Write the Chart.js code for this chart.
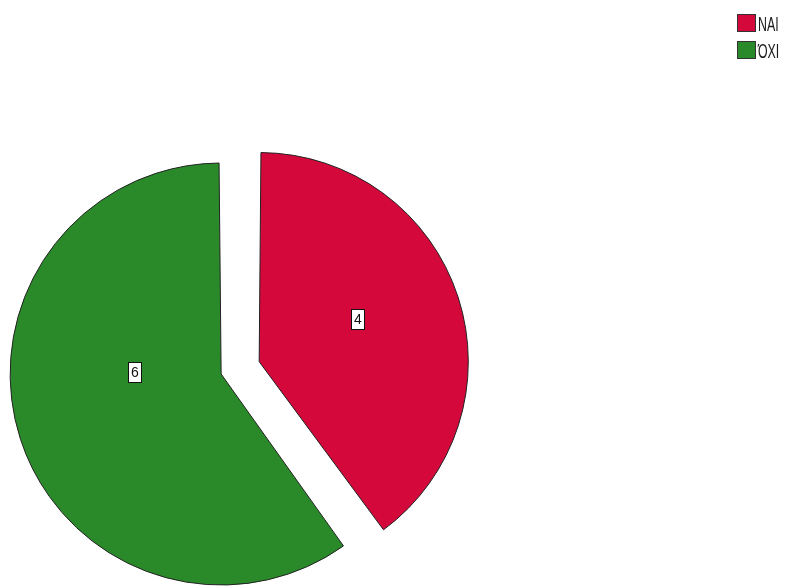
<!DOCTYPE html>
<html>
<head>
<meta charset="utf-8">
<script src="https://cdn.jsdelivr.net/npm/chart.js@4/dist/chart.umd.min.js"></script>
<style>
    body { margin: 0; background: #fff; }
    #wrap { width: 796px; height: 587px; position: relative; }
</style>
</head>
<body>
<div id="wrap"><canvas id="chart"></canvas></div>
<script>
const categories = ['ΝΑΙ', 'ΌΧΙ'];
const counts = [4, 6];
const sliceColors = ['rgb(212, 8, 58)', 'rgb(42, 138, 42)'];

// value labels: white boxes inside each slice
const sliceLabels = {
    id: 'sliceLabels',
    afterDatasetsDraw(chart, args, opts) {
        const ctx = chart.ctx;
        const meta = chart.getDatasetMeta(0);
        ctx.save();
        ctx.font = '14px "Liberation Sans", Arial, sans-serif';
        ctx.textAlign = 'center';
        ctx.textBaseline = 'middle';
        meta.data.forEach((arc, i) => {
            const p = arc.getProps(['x', 'y', 'startAngle', 'endAngle', 'outerRadius']);
            const shift = (arc.options.offset || 0) / 4;
            const mid = (p.startAngle + p.endAngle) / 2;
            const a = p.startAngle + opts.angle[i] * (p.endAngle - p.startAngle);
            const r = p.outerRadius * opts.radius[i];
            const cx = p.x + Math.cos(mid) * shift + Math.cos(a) * r;
            const cy = p.y + Math.sin(mid) * shift + Math.sin(a) * r;
            const text = String(chart.data.datasets[0].data[i]);
            const w = Math.round(ctx.measureText(text).width) + 5;
            const h = 20;
            const bx = Math.round(cx - w / 2) + 0.5;
            const by = Math.round(cy - h / 2) + 0.5;
            ctx.fillStyle = '#fff';
            ctx.fillRect(bx, by, w, h);
            ctx.strokeStyle = '#111';
            ctx.lineWidth = 1;
            ctx.strokeRect(bx, by, w, h);
            ctx.fillStyle = '#111';
            ctx.fillText(text, bx + w / 2, by + h / 2 + 1);
        });
        ctx.restore();
    }
};

// legend in the top right corner, narrow lettering
const cornerLegend = {
    id: 'cornerLegend',
    afterDraw(chart, args, opts) {
        const ctx = chart.ctx;
        const colors = chart.data.datasets[0].backgroundColor;
        ctx.save();
        chart.data.labels.forEach((label, i) => {
            const y = opts.top + i * opts.step;
            ctx.fillStyle = colors[i];
            ctx.fillRect(opts.left + 0.5, y + 0.5, 18, 17);
            ctx.strokeStyle = '#333';
            ctx.lineWidth = 1;
            ctx.strokeRect(opts.left + 0.5, y + 0.5, 18, 17);
            ctx.save();
            ctx.translate(opts.left + 21, y + 17);
            ctx.scale(0.62, 1);
            ctx.font = '20px "Liberation Sans", Arial, sans-serif';
            ctx.fillStyle = '#1a1a1a';
            ctx.textBaseline = 'alphabetic';
            ctx.fillText(label, 0, 0);
            ctx.restore();
        });
        ctx.restore();
    }
};

document.addEventListener('DOMContentLoaded', function () {
    new Chart(
        document.getElementById('chart'),
        {
            type: 'pie',
            data: {
                labels: categories,
                datasets: [
                    {
                        data: counts,
                        backgroundColor: sliceColors,
                        borderColor: '#222',
                        borderWidth: 1,
                        offset: [108, 52]
                    }
                ]
            },
            plugins: [sliceLabels, cornerLegend],
            options: {
                responsive: true,
                maintainAspectRatio: false,
                animation: false,
                radius: 198,
                layout: {
                    padding: { left: 0, right: 329, top: 153, bottom: 0 }
                },
                plugins: {
                    legend: { display: false },
                    tooltip: { enabled: false },
                    sliceLabels: { angle: [0.46, 0.59], radius: [0.54, 0.44] },
                    cornerLegend: { left: 737, top: 14, step: 27 }
                }
            }
        }
    );
});
</script>
</body>
</html>
